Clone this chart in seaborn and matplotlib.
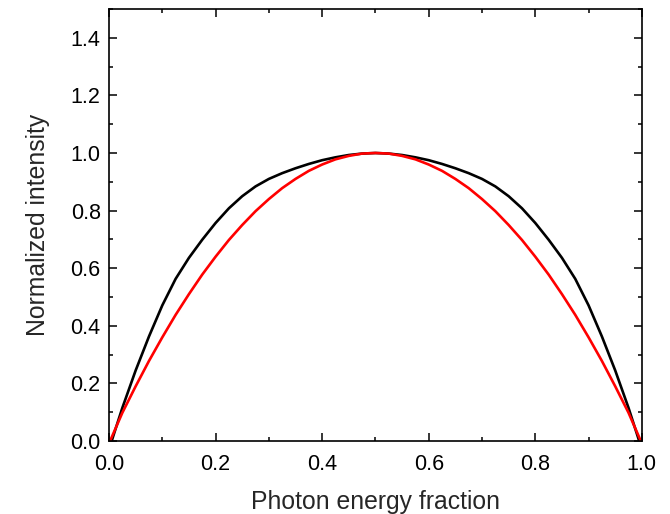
import numpy as np
import pandas as pd
import matplotlib
matplotlib.use("Agg")
import matplotlib.pyplot as plt
from matplotlib.ticker import MultipleLocator
import seaborn as sns

# Black curve (left half then right half)
black_x = [0.005, 0.025, 0.05, 0.075, 0.10, 0.125, 0.15, 0.175, 0.20, 0.225, 0.25, 0.275, 0.30, 0.325, 0.35,
           0.375, 0.40, 0.425, 0.45, 0.475, 0.50,
           0.525, 0.55, 0.575, 0.60, 0.625, 0.65, 0.675, 0.70, 0.725, 0.75, 0.775, 0.80, 0.825, 0.85,
           0.875, 0.90, 0.925, 0.95, 0.975, 0.995]
black_y = [0.0, 0.115, 0.245, 0.363, 0.471, 0.563, 0.636, 0.699, 0.757, 0.808, 0.850, 0.884, 0.910, 0.930, 0.947,
           0.962, 0.975, 0.985, 0.993, 0.998, 1.0,
           0.998, 0.993, 0.985, 0.975, 0.962, 0.947, 0.930, 0.910, 0.884, 0.850, 0.808, 0.757, 0.699, 0.636,
           0.563, 0.471, 0.363, 0.245, 0.115, 0.0]
# Red curve
red_x = [0.002, 0.025, 0.05, 0.075, 0.10, 0.125, 0.15, 0.175, 0.20, 0.225, 0.25, 0.275, 0.30, 0.325, 0.35,
         0.375, 0.40, 0.425, 0.45, 0.475, 0.50,
         0.525, 0.55, 0.575, 0.60, 0.625, 0.65, 0.675, 0.70, 0.725, 0.75, 0.775, 0.80, 0.825, 0.85,
         0.875, 0.90, 0.925, 0.95, 0.975, 0.998]
red_y = [0.0, 0.098, 0.19, 0.278, 0.36, 0.438, 0.51, 0.578, 0.64, 0.698, 0.75, 0.798, 0.84, 0.878, 0.91,
         0.938, 0.96, 0.978, 0.99, 0.998, 1.0,
         0.998, 0.99, 0.978, 0.96, 0.938, 0.91, 0.878, 0.84, 0.798, 0.75, 0.698, 0.64, 0.578, 0.51,
         0.438, 0.36, 0.278, 0.19, 0.098, 0.0]
x_ticks = [0.0, 0.2, 0.4, 0.6, 0.8, 1.0]
x_labels = ["0.0", "0.2", "0.4", "0.6", "0.8", "1.0"]
y_ticks = [0.0, 0.2, 0.4, 0.6, 0.8, 1.0, 1.2, 1.4]
y_labels = ["0.0", "0.2", "0.4", "0.6", "0.8", "1.0", "1.2", "1.4"]

sns.set_style("ticks")
plt.rcParams['font.family'] = ['Liberation Sans', 'DejaVu Sans']

fig = plt.figure(figsize=(6.7, 5.14), dpi=100)
ax = fig.add_axes([0.1627, 0.142, 0.7953, 0.8405])

df_b = pd.DataFrame({"x": black_x, "y": black_y})
df_r = pd.DataFrame({"x": red_x, "y": red_y})
sns.lineplot(data=df_b, x="x", y="y", ax=ax, color="black", linewidth=1.9, sort=False)
sns.lineplot(data=df_r, x="x", y="y", ax=ax, color="#ff0000", linewidth=1.9, sort=False)

ax.set_xlim(0, 1.0)
ax.set_ylim(0, 1.5)
ax.set_xticks(x_ticks)
ax.set_xticklabels(x_labels)
ax.set_yticks(y_ticks)
ax.set_yticklabels(y_labels)
ax.xaxis.set_minor_locator(MultipleLocator(0.1))
ax.yaxis.set_minor_locator(MultipleLocator(0.1))
ax.tick_params(which="both", direction="in", top=True, right=True, width=1.1, labelsize=15.5, colors="black")
ax.tick_params(which="major", length=6)
ax.tick_params(which="minor", length=3)
ax.tick_params(axis="x", pad=9)
ax.tick_params(axis="y", pad=6)
for s in ax.spines.values():
    s.set_linewidth(1.2)
    s.set_color("black")
ax.set_xlabel("Photon energy fraction", fontsize=17.8, labelpad=11)
ax.set_ylabel("Normalized intensity", fontsize=17.8, labelpad=15)

fig.savefig("out.png", dpi=100)
